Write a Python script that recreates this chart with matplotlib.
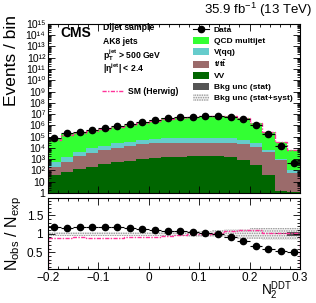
import numpy as np
import matplotlib.pyplot as plt
from matplotlib.ticker import MultipleLocator, LogLocator, NullFormatter, FuncFormatter
from matplotlib.patches import Patch
from matplotlib.lines import Line2D

plt.rcParams['font.family'] = ['Liberation Sans', 'DejaVu Sans']
plt.rcParams['mathtext.fontset'] = 'custom'
plt.rcParams['mathtext.rm'] = 'Liberation Sans'
plt.rcParams['mathtext.it'] = 'Liberation Sans:italic'
plt.rcParams['mathtext.bf'] = 'Liberation Sans:bold'
plt.rcParams['hatch.linewidth'] = 0.7

# N2DDT binning
edges = np.linspace(-0.2, 0.3, 21)

# background components (events / bin)
vv = [40, 78, 126, 214, 355, 525, 741, 977, 1200, 1480, 1660, 1780, 1860, 1860, 1580, 850, 300, 40, 1.6, 1.2]
top = [174, 525, 1780, 3100, 6250, 9950, 15100, 19900, 24500, 28700, 28500, 28400, 28300, 28300, 26600, 20000, 12600, 4530, 850, 55]
vqq = [389, 1060, 2670, 6020, 8180, 15200, 19600, 29200, 36000, 49200, 49200, 49200, 49200, 49200, 42600, 29200, 12800, 2030, 126, 44]
qcd = [5.91e4, 1.72e5, 2.29e5, 3.21e5, 4.85e5, 7.67e5, 1.11e6, 1.74e6, 2.70e6, 4.07e6,
       4.76e6, 5.49e6, 6.95e6, 7.16e6, 6.33e6, 4.23e6, 1.59e6, 2.68e5, 3.45e4, 6510]
data = [7.08e4, 2.0e5, 2.75e5, 3.89e5, 5.89e5, 9.33e5, 1.32e6, 2.0e6, 3.02e6, 4.47e6,
        5.25e6, 5.89e6, 7.24e6, 7.24e6, 5.89e6, 3.47e6, 1.07e6, 1.62e5, 1.58e4, 490]

# lower panel
ratio_obs = [1.185, 1.15, 1.177, 1.177, 1.177, 1.177, 1.15, 1.12, 1.095, 1.076,
             1.085, 1.057, 1.03, 1.0, 0.92, 0.81, 0.66, 0.59, 0.54, 0.50]
herwig_ratio = [0.88, 0.89, 0.90, 0.89, 0.89, 0.89, 0.90, 0.90, 0.92, 0.95,
                0.97, 0.99, 1.0, 1.03, 1.08, 1.10, 1.10, 1.03, 1.02, 1.03]
unc_stat = [0.005] * 18 + [0.015, 0.05]
unc_syst = [0.06] * 10 + [0.07, 0.08, 0.09, 0.10, 0.12, 0.14, 0.15, 0.16, 0.17, 0.17]

c_qcd = '#33ff33'
c_vqq = '#66cccc'
c_top = '#9b6b6b'
c_vv = '#006600'
c_sm = '#ff3399'
c_stat = '#555555'
c_hatch = '#909090'

centers = 0.5 * (edges[1:] + edges[:-1])
hw = 0.5 * (edges[1] - edges[0])
s1 = np.array(vv)
s2 = s1 + np.array(top)
s3 = s2 + np.array(vqq)
s4 = s3 + np.array(qcd)

fig = plt.figure(figsize=(3.16, 3.03), dpi=100)
ax = fig.add_axes([0.152, 0.363, 0.797, 0.558])
rx = fig.add_axes([0.152, 0.112, 0.797, 0.235])

# stacked histogram
for vals, col in [(s4, c_qcd), (s3, c_vqq), (s2, c_top), (s1, c_vv)]:
    ax.stairs(vals, edges, baseline=0.5, fill=True, color=col, lw=0)
ax.stairs(s4 * np.array(herwig_ratio), edges, color=c_sm, lw=1.0, ls=(0, (3, 1, 1, 1)))
ax.errorbar(centers, data, xerr=hw, yerr=np.sqrt(data), fmt='o', color='k',
            ms=4.5, lw=0.8, capsize=0)

ax.set_yscale('log')
ax.set_xlim(-0.2, 0.3)
ax.set_ylim(1, 1e15)
ax.yaxis.set_major_locator(LogLocator(base=10, numticks=20))
ax.yaxis.set_minor_locator(LogLocator(base=10, subs=np.arange(2, 10), numticks=20))
ax.yaxis.set_minor_formatter(NullFormatter())

SUP = str.maketrans('0123456789', '\u2070\u00b9\u00b2\u00b3\u2074\u2075\u2076\u2077\u2078\u2079')

def logfmt(v, pos):
    n = int(round(np.log10(v)))
    if n == 0:
        return '1'
    if n == 1:
        return '10'
    return '10' + str(n).translate(SUP)

def linfmt(v, pos):
    if abs(v) < 1e-9:
        return '0'
    return ('%g' % v).replace('-', '\u2212')

ax.yaxis.set_major_formatter(FuncFormatter(logfmt))
ax.xaxis.set_major_locator(MultipleLocator(0.1))
ax.xaxis.set_minor_locator(MultipleLocator(0.02))
ax.tick_params(labelbottom=False)

# ratio panel
rx.stairs(1 + np.array(unc_syst), edges, baseline=1 - np.array(unc_syst), fill=True,
          facecolor='#f2f2f2', edgecolor=c_hatch, hatch='.......', lw=0)
rx.stairs(1 + np.array(unc_stat), edges, baseline=1 - np.array(unc_stat), fill=True,
          color=c_stat, lw=0)
rx.stairs(herwig_ratio, edges, color=c_sm, lw=1.0, ls=(0, (3, 1, 1, 1)))
rx.errorbar(centers, ratio_obs, xerr=hw, fmt='o', color='k', ms=4.5, lw=0.8, capsize=0)
rx.set_xlim(-0.2, 0.3)
rx.set_ylim(0.04, 1.98)
rx.xaxis.set_major_locator(MultipleLocator(0.1))
rx.xaxis.set_minor_locator(MultipleLocator(0.02))
rx.yaxis.set_major_locator(MultipleLocator(0.5))
rx.yaxis.set_minor_locator(MultipleLocator(0.1))
rx.xaxis.set_major_formatter(FuncFormatter(linfmt))
rx.yaxis.set_major_formatter(FuncFormatter(linfmt))

for a in (ax, rx):
    a.tick_params(which='both', direction='in', top=True, right=True, labelsize=8.5, width=0.6)
    a.tick_params(which='major', length=5)
    a.tick_params(which='minor', length=2.5)
    for sp in a.spines.values():
        sp.set_linewidth(0.8)
ax.tick_params(axis='y', labelsize=7.6, pad=2)
rx.tick_params(axis='x', pad=2)

# labels
fig.text(0.035, 0.80, 'Events / bin', rotation=90, ha='center', va='center', fontsize=12.5)
fig.text(0.042, 0.228, r'N$_{\mathrm{obs}}$ / N$_{\mathrm{exp}}$', rotation=90,
         ha='center', va='center', fontsize=11.5)
fig.text(0.925, 0.002, r'N$_{2}^{\mathrm{DDT}}$', ha='right', va='bottom', fontsize=9.8)
fig.text(0.987, 0.967, r'35.9 fb$^{-1}$ (13 TeV)', ha='right', va='center', fontsize=9.5)

ax.text(0.048, 0.947, 'CMS', transform=ax.transAxes, fontsize=10, fontweight='bold', va='center')
info = ['Dijet sample', 'AK8 jets', r'$\mathbf{p_{T}^{jet}}$ > 500 GeV', r'|$\mathbf{\eta^{jet}}$| < 2.4']
info_y = [0.976, 0.899, 0.817, 0.734]
for t, y in zip(info, info_y):
    ax.text(0.218, y, t, transform=ax.transAxes, fontsize=6.2, fontweight='bold', va='center')

handles = [Line2D([], [], color='k', marker='o', ms=4.5, lw=0.8),
           Patch(facecolor=c_qcd), Patch(facecolor=c_vqq), Patch(facecolor=c_top),
           Patch(facecolor=c_vv), Patch(facecolor=c_stat),
           Patch(facecolor='#f2f2f2', edgecolor=c_hatch, hatch='.......', lw=0)]
labels = ['Data', 'QCD multijet', 'V(qq)', r't/t$\mathbf{\bar{t}}$', 'VV',
          'Bkg unc (stat)', 'Bkg unc (stat+syst)']
leg = ax.legend(handles, labels, loc='upper left', bbox_to_anchor=(0.575, 0.99),
                frameon=False, prop={'size': 6.0, 'weight': 'bold'}, handlelength=1.93,
                handleheight=0.96, handletextpad=0.6, labelspacing=0.3,
                borderaxespad=0, borderpad=0)
ax.add_artist(leg)
ax.legend([Line2D([], [], color=c_sm, lw=1.0, ls=(0, (3, 1, 1, 1)))], ['SM (Herwig)'],
          loc='upper left', bbox_to_anchor=(0.214, 0.628), frameon=False,
          prop={'size': 6.2, 'weight': 'bold'}, handlelength=2.4, handletextpad=0.6,
          borderaxespad=0, borderpad=0)

fig.savefig('out.png', dpi=100)
